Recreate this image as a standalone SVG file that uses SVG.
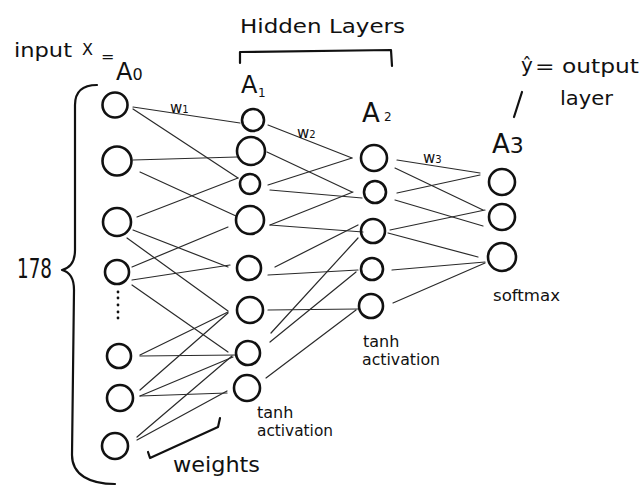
<svg xmlns="http://www.w3.org/2000/svg" width="641" height="486" viewBox="0 0 641 486">
<style>
.n{fill:none;stroke:#111;stroke-width:2.6}
.e{stroke:#2a2a2a;stroke-width:1.2;fill:none;stroke-linecap:round}
.b{fill:none;stroke:#111;stroke-width:2.2;stroke-linecap:round;stroke-linejoin:round}
.t{font-family:"DejaVu Sans","Liberation Sans",sans-serif;fill:#111}
</style>
<rect width="641" height="486" fill="#fff"/>
<g id="connectors">
<line class="e" x1="133" y1="107" x2="240" y2="123"/>
<line class="e" x1="133" y1="109" x2="238" y2="178"/>
<line class="e" x1="133" y1="160" x2="237" y2="157"/>
<line class="e" x1="140" y1="172" x2="236" y2="216"/>
<line class="e" x1="137" y1="217" x2="238" y2="178"/>
<line class="e" x1="133" y1="230" x2="228" y2="267"/>
<line class="e" x1="127" y1="238" x2="228" y2="311"/>
<line class="e" x1="132" y1="267" x2="228" y2="227"/>
<line class="e" x1="132" y1="280" x2="230" y2="265"/>
<line class="e" x1="132" y1="285" x2="228" y2="352"/>
<line class="e" x1="140" y1="355" x2="228" y2="312"/>
<line class="e" x1="140" y1="356" x2="237" y2="355"/>
<line class="e" x1="140" y1="390" x2="228" y2="313"/>
<line class="e" x1="140" y1="396" x2="233" y2="357"/>
<line class="e" x1="140" y1="396" x2="227" y2="393"/>
<line class="e" x1="137" y1="437" x2="232" y2="356"/>
<line class="e" x1="137" y1="440" x2="227" y2="391"/>
<line class="e" x1="268" y1="125" x2="352" y2="158"/>
<line class="e" x1="267" y1="152" x2="352" y2="192"/>
<line class="e" x1="268" y1="185" x2="352" y2="158"/>
<line class="e" x1="270" y1="190" x2="362" y2="198"/>
<line class="e" x1="270" y1="225" x2="353" y2="192"/>
<line class="e" x1="270" y1="225" x2="363" y2="232"/>
<line class="e" x1="275" y1="267" x2="358" y2="225"/>
<line class="e" x1="268" y1="275" x2="358" y2="270"/>
<line class="e" x1="268" y1="310" x2="358" y2="309"/>
<line class="e" x1="271" y1="333" x2="358" y2="238"/>
<line class="e" x1="270" y1="342" x2="356" y2="272"/>
<line class="e" x1="266" y1="378" x2="356" y2="310"/>
<line class="e" x1="397" y1="160" x2="480" y2="173"/>
<line class="e" x1="395" y1="168" x2="483" y2="210"/>
<line class="e" x1="397" y1="193" x2="480" y2="175"/>
<line class="e" x1="395" y1="200" x2="483" y2="226"/>
<line class="e" x1="390" y1="230" x2="485" y2="210"/>
<line class="e" x1="388" y1="233" x2="478" y2="257"/>
<line class="e" x1="392" y1="270" x2="485" y2="262"/>
<line class="e" x1="393" y1="303" x2="485" y2="263"/>
</g>
<g id="a0-1"><circle class="n" cx="115" cy="105" r="12.5"/></g>
<g id="a0-2"><circle class="n" cx="117" cy="161" r="14.5"/></g>
<g id="a0-3"><circle class="n" cx="117" cy="222" r="14"/></g>
<g id="a0-4"><circle class="n" cx="117" cy="272" r="12"/></g>
<g id="a0-dots" fill="#111"><circle cx="118" cy="292" r="1.4"/><circle cx="118" cy="298" r="1.4"/><circle cx="118" cy="305" r="1.4"/><circle cx="118" cy="312" r="1.4"/><circle cx="118" cy="318" r="1.4"/></g>
<g id="a0-5"><circle class="n" cx="119" cy="356" r="12"/></g>
<g id="a0-6"><circle class="n" cx="120" cy="398" r="13"/></g>
<g id="a0-7"><circle class="n" cx="115" cy="446" r="13"/></g>
<g id="a1-1"><circle class="n" cx="253" cy="120" r="11"/></g>
<g id="a1-2"><circle class="n" cx="251" cy="151" r="14"/></g>
<g id="a1-3"><circle class="n" cx="250" cy="184" r="10"/></g>
<g id="a1-4"><circle class="n" cx="250" cy="220" r="14"/></g>
<g id="a1-5"><circle class="n" cx="249" cy="268" r="12"/></g>
<g id="a1-6"><circle class="n" cx="250" cy="310" r="13"/></g>
<g id="a1-7"><circle class="n" cx="248" cy="353" r="12"/></g>
<g id="a1-8"><circle class="n" cx="247" cy="388" r="13"/></g>
<g id="a2-1"><circle class="n" cx="374" cy="158" r="13"/></g>
<g id="a2-2"><circle class="n" cx="375" cy="192" r="11"/></g>
<g id="a2-3"><circle class="n" cx="373" cy="231" r="12"/></g>
<g id="a2-4"><circle class="n" cx="372" cy="269" r="11"/></g>
<g id="a2-5"><circle class="n" cx="371" cy="306" r="12"/></g>
<g id="a3-1"><circle class="n" cx="502" cy="182" r="13"/></g>
<g id="a3-2"><circle class="n" cx="502" cy="217" r="13"/></g>
<g id="a3-3"><circle class="n" cx="502" cy="257" r="14"/></g>
<g id="brace"><path class="b" d="M97,85 C82,85 75,92 75,105 L75,250 C75,262 70,268 62,270 C70,272 74,278 74,290 L72,455 C72,475 90,484 115,484"/></g>
<g id="hidden-bracket"><path class="b" d="M240,63 L240,52 L391,50 L392,66"/></g>
<g id="weights-bracket"><path class="b" d="M148,452 L150,458 L218,427 L220,418"/></g>
<g id="yhat-pointer"><line class="b" x1="522" y1="92" x2="514" y2="117"/></g>
<g id="labels" class="t">
<text x="14" y="57" font-size="20" textLength="58" lengthAdjust="spacingAndGlyphs">input</text>
<text x="82" y="55" font-size="16">X</text>
<text x="101" y="62" font-size="16">=</text>
<text x="116" y="80" font-size="24">A<tspan font-size="16">0</tspan></text>
<text x="240" y="33" font-size="20" textLength="165" lengthAdjust="spacingAndGlyphs">Hidden Layers</text>
<text x="241" y="93" font-size="24">A</text><text x="258" y="97" font-size="12">1</text>
<text x="362" y="122" font-size="26">A</text><text x="384" y="121" font-size="12">2</text>
<text x="492" y="153" font-size="26">A<tspan font-size="22">3</tspan></text>
<text x="521" y="72" font-size="20">ŷ</text>
<text x="535" y="73" font-size="20" textLength="104" lengthAdjust="spacingAndGlyphs">= output</text>
<text x="560" y="105" font-size="20" textLength="53" lengthAdjust="spacingAndGlyphs">layer</text>
<text x="493" y="301" font-size="16" textLength="67" lengthAdjust="spacingAndGlyphs">softmax</text>
<text x="363" y="347" font-size="16">tanh</text>
<text x="362" y="365" font-size="16" textLength="78" lengthAdjust="spacingAndGlyphs">activation</text>
<text x="257" y="418" font-size="16">tanh</text>
<text x="257" y="436" font-size="16" textLength="76" lengthAdjust="spacingAndGlyphs">activation</text>
<text x="173" y="472" font-size="22" textLength="87" lengthAdjust="spacingAndGlyphs">weights</text>
<text x="17" y="278" font-size="26" textLength="35" lengthAdjust="spacingAndGlyphs">178</text>
<text x="170" y="113" font-size="15">w<tspan font-size="10">1</tspan></text>
<text x="297" y="138" font-size="15">w<tspan font-size="10">2</tspan></text>
<text x="423" y="163" font-size="15">w<tspan font-size="10">3</tspan></text>
</g>
</svg>
